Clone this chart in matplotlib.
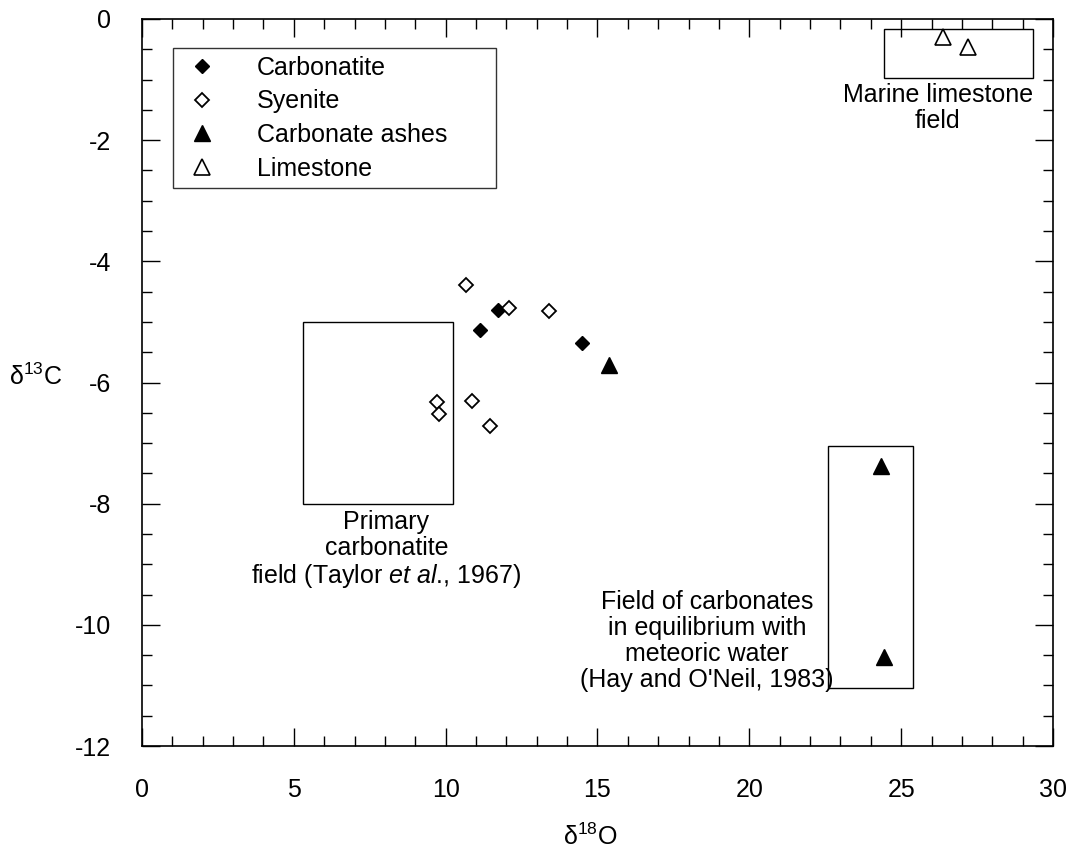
import matplotlib
matplotlib.use("Agg")
import matplotlib.pyplot as plt
from matplotlib.patches import Rectangle
from matplotlib.ticker import MultipleLocator

plt.rcParams['font.family'] = ['Liberation Sans', 'DejaVu Sans']
plt.rcParams['mathtext.fontset'] = 'custom'
plt.rcParams['mathtext.rm'] = 'Liberation Sans'
plt.rcParams['mathtext.it'] = 'Liberation Sans:italic'
plt.rcParams['axes.unicode_minus'] = False

# d18O / d13C data
carbonatite_x = [11.14, 11.73, 14.48]
carbonatite_y = [-5.14, -4.81, -5.35]
syenite_x = [10.66, 12.08, 13.40, 9.70, 9.79, 10.88, 11.46]
syenite_y = [-4.39, -4.77, -4.82, -6.33, -6.52, -6.31, -6.72]
ashes_x = [15.38, 24.35, 24.43]
ashes_y = [-5.71, -7.37, -10.53]
limestone_x = [26.37, 27.20]
limestone_y = [-0.30, -0.47]

# reference fields: (x_min, x_max, y_min, y_max)
primary_field = (5.29, 10.23, -8.0, -5.0)
meteoric_field = (22.6, 25.39, -11.05, -7.05)
marine_field = (24.45, 29.35, -0.97, -0.16)

fs = 18

fig = plt.figure(figsize=(10.67, 8.52), dpi=100)
ax = fig.add_axes([0.133, 0.1244, 0.9869 - 0.133, 0.9777 - 0.1244])

ax.plot(carbonatite_x, carbonatite_y, 'D', ms=7.3, mfc='black', mec='black',
        mew=1, ls='none', label='Carbonatite')
ax.plot(syenite_x, syenite_y, 'D', ms=7.3, mfc='white', mec='black',
        mew=1.3, ls='none', label='Syenite')
ax.plot(ashes_x, ashes_y, '^', ms=11, mfc='black', mec='black',
        mew=1, ls='none', label='Carbonate ashes')
ax.plot(limestone_x, limestone_y, '^', ms=11, mfc='white', mec='black',
        mew=1.2, ls='none', label='Limestone')

for x0, x1, y0, y1 in (primary_field, meteoric_field, marine_field):
    ax.add_patch(Rectangle((x0, y0), x1 - x0, y1 - y0, fill=False,
                           ec='black', lw=1.0, zorder=1))

ax.text(8.05, -8.1, 'Primary\ncarbonatite\nfield (Taylor $\\mathit{et\\ al}$., 1967)',
        ha='center', va='top', fontsize=fs, linespacing=1.1)
ax.text(18.6, -9.43, "Field of carbonates\nin equilibrium with\nmeteoric water\n(Hay and O'Neil, 1983)",
        ha='center', va='top', fontsize=fs, linespacing=1.1)
ax.text(26.2, -1.05, 'Marine limestone\nfield', ha='center', va='top',
        fontsize=fs, linespacing=1.1)

ax.set_xlim(0, 30)
ax.set_ylim(-12, 0)
ax.xaxis.set_major_locator(MultipleLocator(5))
ax.xaxis.set_minor_locator(MultipleLocator(1))
ax.yaxis.set_major_locator(MultipleLocator(2))
ax.yaxis.set_minor_locator(MultipleLocator(0.5))
ax.tick_params(which='both', direction='in', top=True, right=True,
               labelsize=fs, width=1.0)
ax.tick_params(axis='x', which='major', length=13, pad=23)
ax.tick_params(axis='y', which='major', length=13, pad=22)
ax.tick_params(which='minor', length=7)
for s in ax.spines.values():
    s.set_linewidth(1.2)

ax.set_xlabel('δ$^{\\mathregular{18}}$O', fontsize=fs, va='center')
ax.xaxis.set_label_coords(0.492, -0.125)
ax.set_ylabel('δ$^{\\mathregular{13}}$C', fontsize=fs, rotation=0,
              ha='center', va='center')
ax.yaxis.set_label_coords(-0.117, 0.508)

leg = ax.legend(loc='upper left', bbox_to_anchor=(0.034, 0.96, 0.355, 0.0),
                mode='expand', fontsize=fs, frameon=True, fancybox=False,
                edgecolor='black', borderaxespad=0, borderpad=0.3,
                handlelength=1.72, handletextpad=1.34, labelspacing=0.39,
                numpoints=1)
leg.get_frame().set_linewidth(1.0)

fig.savefig('out.png', dpi=100)
